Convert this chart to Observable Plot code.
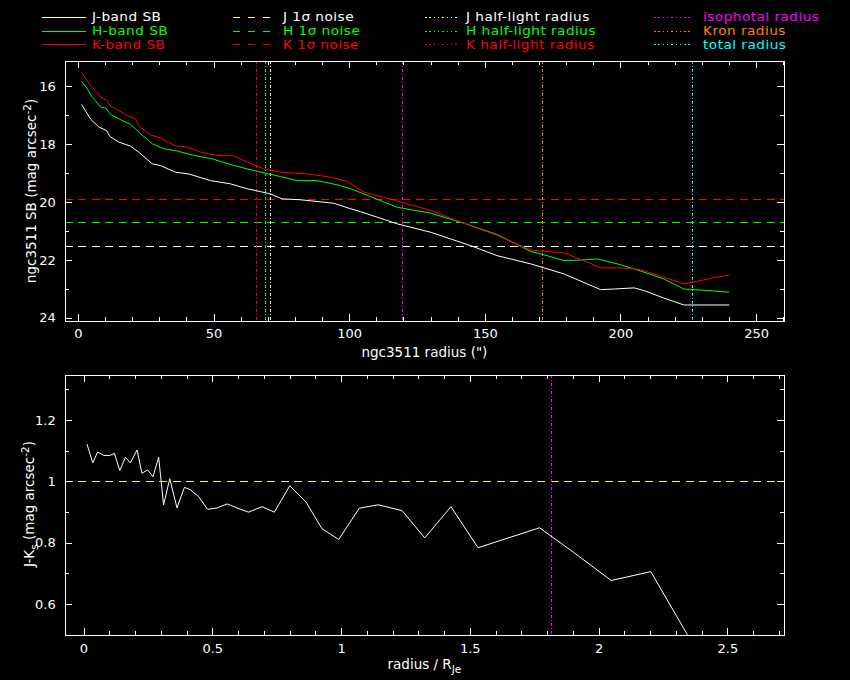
<!DOCTYPE html>
<html><head><meta charset="utf-8">
<script src="https://cdn.jsdelivr.net/npm/d3@7"></script>
<script src="https://cdn.jsdelivr.net/npm/@observablehq/plot@0.6"></script>
<style>
html,body{margin:0;padding:0;background:#000;}
#wrap{position:relative;width:850px;height:680px;background:#000;overflow:hidden;}
#wrap svg{position:absolute;left:0;}
</style></head><body><div id="wrap"></div>
<script>
// ---- data: surface brightness profiles (radius in arcsec, SB in mag/arcsec^2)
const rJ  = [1.2, 4.4, 7.5, 10.3, 11.6, 14.9, 19.2, 22.2, 27.2, 30.2, 35.8, 40.7, 48.7, 56.0, 62.2, 67.1, 70.8, 75.1, 81.9, 94.1, 100.3, 104, 117.5, 129.8, 144.5, 154.4, 166.7, 179, 192.5, 197.4, 204.8, 208.4, 215.8, 223.2, 239.8];
const sbJ = [16.63, 17.12, 17.40, 17.52, 17.73, 17.92, 18.06, 18.27, 18.67, 18.73, 18.96, 19.02, 19.25, 19.36, 19.53, 19.63, 19.71, 19.88, 19.91, 20.03, 20.22, 20.32, 20.74, 21.03, 21.49, 21.84, 22.12, 22.47, 23.01, 22.99, 22.95, 23.04, 23.30, 23.54, 23.54];
const rH  = [1.2, 3.2, 5.1, 8.1, 10, 11.8, 14.9, 19.2, 22.9, 27.2, 31.5, 36.4, 42.5, 49.3, 57.3, 67.1, 74.5, 80.6, 88, 96.6, 100.3, 105.2, 117.5, 129.8, 142.1, 154.4, 166.7, 172.8, 179, 185.1, 191.3, 198.6, 206, 215.8, 223.2, 231.8, 239.8];
const sbH = [15.83, 16.08, 16.37, 16.71, 16.74, 16.97, 17.12, 17.31, 17.63, 17.98, 18.15, 18.23, 18.38, 18.50, 18.73, 18.96, 19.11, 19.25, 19.25, 19.42, 19.53, 19.71, 20.17, 20.37, 20.72, 21.11, 21.69, 21.84, 22.01, 21.99, 21.95, 22.12, 22.33, 22.64, 22.99, 23.04, 23.10];
const rK  = [1.2, 4.4, 8.7, 10.6, 11.8, 14.9, 18, 21, 22.2, 26.5, 30.2, 35.8, 40, 45, 51.1, 56.7, 62.2, 68.3, 74.5, 84.3, 91.7, 99, 105.2, 116, 129.8, 142.1, 154.4, 164.2, 167.9, 179, 186.3, 192.5, 199.9, 207.2, 215.8, 223.2, 228.1, 239.8];
const sbK = [15.53, 15.97, 16.40, 16.48, 16.68, 16.83, 17.00, 17.12, 17.37, 17.67, 17.78, 18.06, 18.08, 18.27, 18.38, 18.38, 18.61, 18.84, 18.96, 19.02, 19.11, 19.27, 19.65, 19.91, 20.28, 20.72, 21.14, 21.55, 21.66, 21.74, 22.01, 22.26, 22.26, 22.32, 22.58, 22.81, 22.72, 22.50];

// 1-sigma noise levels
const noiseJ = 21.53, noiseH = 20.71, noiseK = 19.91;
// radii (arcsec)
const halfJ = 70.9, halfH = 69.1, halfK = 65.8;
const isoR = 119.3, kronR = 171.2, totalR = 226.5;

// ---- data: J-K colour profile vs radius / R_Je
const rNorm = [0.012,0.034,0.053,0.077,0.100,0.118,0.139,0.161,0.180,0.206,0.225,0.247,0.268,0.290,0.309,0.333,0.361,0.390,0.413,0.445,0.480,0.517,0.556,0.594,0.639,0.691,0.739,0.799,0.863,0.924,0.989,1.069,1.142,1.235,1.323,1.425,1.530,1.769,1.901,2.047,2.201,2.345,2.42];
const jk    = [1.122,1.062,1.097,1.086,1.086,1.093,1.037,1.080,1.062,1.104,1.028,1.039,1.017,1.080,0.925,1.010,0.915,0.982,0.974,0.952,0.910,0.915,0.928,0.915,0.901,0.919,0.901,0.987,0.933,0.847,0.812,0.914,0.925,0.906,0.817,0.919,0.785,0.850,0.770,0.678,0.707,0.498,0.39];
const jkRef = 1.0;
const isoNorm = 1.816;

// ---- tick labels
const topXMajor = [0, 50, 100, 150, 200, 250];
const topXMinor = [10,20,30,40,60,70,80,90,110,120,130,140,160,170,180,190,210,220,230,240,260];
const topYMajor = [16, 18, 20, 22, 24];
const topYMinor = [17, 19, 21, 23];
const botXMajor = [0, 0.5, 1, 1.5, 2, 2.5];
const botXMinor = [0.1,0.2,0.3,0.4,0.6,0.7,0.8,0.9,1.1,1.2,1.3,1.4,1.6,1.7,1.8,1.9,2.1,2.2,2.3,2.4,2.6,2.7];
const botYMajor = [0.6, 0.8, 1, 1.2];
const botYMinor = [0.7, 0.9, 1.1, 1.3];

const FONT = "DejaVu Sans";
const W = 850, ML = 64.7, MR = 66;
const FW = W - ML - MR, FH = 260;
const DASH = "8,5.5", DOT = "3,2,1,2";
const CR = "crispEdges";

function boxTicks(vals, len, dim) {
  const o = {stroke: "white", strokeWidth: 1, shapeRendering: CR};
  if (dim === "x") return [
    Plot.tickX(vals, {...o, x: d => d, insetBottom: FH - len}),
    Plot.tickX(vals, {...o, x: d => d, insetTop: FH - len})
  ];
  return [
    Plot.tickY(vals, {...o, y: d => d, insetRight: FW - len}),
    Plot.tickY(vals, {...o, y: d => d, insetLeft: FW - len})
  ];
}
const fmt = d => d3.format("~g")(d);
const styleObj = {background: "black", color: "white", fontFamily: FONT, fontSize: "13px", overflow: "visible"};

const topData = {
  J: rJ.map((r, i) => ({r, sb: sbJ[i]})),
  H: rH.map((r, i) => ({r, sb: sbH[i]})),
  K: rK.map((r, i) => ({r, sb: sbK[i]}))
};

const topPlot = Plot.plot({
  width: W, height: 315, marginLeft: ML, marginRight: MR, marginTop: 6, marginBottom: 49,
  x: {domain: [-4.9, 260.3]},
  y: {domain: [24.11, 15.14]},
  style: styleObj,
  marks: [
    Plot.ruleY([noiseK], {stroke: "#ff0000", strokeDasharray: DASH, shapeRendering: CR}),
    Plot.ruleY([noiseH], {stroke: "#00ff00", strokeDasharray: DASH, shapeRendering: CR}),
    Plot.ruleY([noiseJ], {stroke: "white", strokeDasharray: DASH, shapeRendering: CR}),
    Plot.ruleX([halfK], {stroke: "#ff0000", strokeDasharray: DOT, shapeRendering: CR}),
    Plot.ruleX([halfH], {stroke: "#00ff00", strokeDasharray: DOT, shapeRendering: CR}),
    Plot.ruleX([halfJ], {stroke: "white", strokeDasharray: DOT, shapeRendering: CR}),
    Plot.ruleX([isoR], {stroke: "#ff00ff", strokeDasharray: DOT, shapeRendering: CR}),
    Plot.ruleX([kronR], {stroke: "#ff8000", strokeDasharray: DOT, shapeRendering: CR}),
    Plot.ruleX([totalR], {stroke: "#00ffff", strokeDasharray: DOT, shapeRendering: CR}),
    Plot.line(topData.J, {x: "r", y: "sb", stroke: "white", strokeWidth: 1}),
    Plot.line(topData.H, {x: "r", y: "sb", stroke: "#00ff00", strokeWidth: 1}),
    Plot.line(topData.K, {x: "r", y: "sb", stroke: "#ff0000", strokeWidth: 1}),
    ...boxTicks(topXMajor, 7, "x"),
    ...boxTicks(topXMinor, 4, "x"),
    ...boxTicks(topYMajor, 7, "y"),
    ...boxTicks(topYMinor, 4, "y"),
    Plot.axisX({ticks: topXMajor, tickSize: 0, tickPadding: 7.5, tickFormat: fmt, label: null, fontSize: 13}),
    Plot.axisY({ticks: topYMajor, tickSize: 0, tickPadding: 9.5, tickFormat: fmt, label: null, fontSize: 13}),
    Plot.frame({stroke: "white", shapeRendering: CR})
  ]
});

const botPlot = Plot.plot({
  width: W, height: 310, marginLeft: ML, marginRight: MR, marginTop: 5.3, marginBottom: 44.7,
  x: {domain: [-0.073, 2.72]},
  y: {domain: [0.4976, 1.346]},
  style: styleObj,
  marks: [
    Plot.ruleY([jkRef], {stroke: "#ffff00", strokeDasharray: DASH, shapeRendering: CR}),
    Plot.ruleX([isoNorm], {stroke: "#ff00ff", strokeDasharray: DOT, shapeRendering: CR}),
    Plot.line(rNorm.map((x, i) => ({x, y: jk[i]})), {x: "x", y: "y", stroke: "white", strokeWidth: 1, clip: true}),
    ...boxTicks(botXMajor, 7, "x"),
    ...boxTicks(botXMinor, 4, "x"),
    ...boxTicks(botYMajor, 7, "y"),
    ...boxTicks(botYMinor, 4, "y"),
    Plot.axisX({ticks: botXMajor, tickSize: 0, tickPadding: 7.5, tickFormat: fmt, label: null, fontSize: 13}),
    Plot.axisY({ticks: botYMajor, tickSize: 0, tickPadding: 9.5, tickFormat: fmt, label: null, fontSize: 13}),
    Plot.frame({stroke: "white", shapeRendering: CR})
  ]
});

const wrap = document.getElementById("wrap");
topPlot.style.top = "55px";
botPlot.style.top = "370px";
wrap.appendChild(topPlot);
wrap.appendChild(botPlot);

// ---- overlay: legend and axis titles
const ov = d3.select(wrap).append("svg")
  .attr("width", W).attr("height", 680)
  .style("top", "0px").style("pointer-events", "none")
  .attr("font-family", FONT).attr("font-size", 13.5);

const legendCols = [
  {x1: 42, x2: 86, tx: 92, dash: null, items: [["J-band SB", "white"], ["H-band SB", "#00ff00"], ["K-band SB", "#ff0000"]]},
  {x1: 233, x2: 277, tx: 283, dash: "7.3,7.5", items: [["J 1σ noise", "white"], ["H 1σ noise", "#00ff00"], ["K 1σ noise", "#ff0000"]]},
  {x1: 425, x2: 457, tx: 466, dash: "1.5,2.8", items: [["J half-light radius", "white"], ["H half-light radius", "#00ff00"], ["K half-light radius", "#ff0000"]]},
  {x1: 654, x2: 693, tx: 703, dash: "1.5,2.8", items: [["isophotal radius", "#ff00ff"], ["Kron radius", "#ff8000"], ["total radius", "#00ffff"]]}
];
const rowY = [17, 30.7, 44.3];
legendCols.forEach(c => {
  c.items.forEach(([label, col], i) => {
    const y = rowY[i];
    ov.append("line").attr("x1", c.x1).attr("x2", c.x2).attr("y1", y + 0.5).attr("y2", y + 0.5)
      .attr("stroke", col).attr("stroke-width", 1).attr("stroke-dasharray", c.dash)
      .attr("shape-rendering", CR);
    ov.append("text").attr("transform", `translate(${c.tx},${y}) scale(1.14,1)`)
      .attr("dy", "0.36em").attr("font-size", 12)
      .attr("fill", col).attr("letter-spacing", 0.4).text(label);
  });
});

// top x title
ov.append("text").attr("x", 424.4).attr("y", 352).attr("dy", "0.36em")
  .attr("text-anchor", "middle").attr("fill", "white").text("ngc3511 radius (\")");
// top y title
{
  const t = ov.append("text").attr("transform", "translate(31,191) rotate(-90)")
    .attr("text-anchor", "middle").attr("dy", "0.36em").attr("fill", "white");
  t.append("tspan").text("ngc3511 SB (mag arcsec");
  t.append("tspan").attr("dy", -5).attr("font-size", 10.5).text("-2");
  t.append("tspan").attr("dy", 5).text(")");
}
// bottom x title
{
  const t = ov.append("text").attr("x", 424.4).attr("y", 664).attr("dy", "0.36em")
    .attr("text-anchor", "middle").attr("fill", "white");
  t.append("tspan").text("radius / R");
  t.append("tspan").attr("dy", 4).attr("font-size", 10.5).text("Je");
}
// bottom y title
{
  const t = ov.append("text").attr("transform", "translate(29,504) rotate(-90)")
    .attr("text-anchor", "middle").attr("dy", "0.36em").attr("fill", "white");
  t.append("tspan").text("J-K");
  t.append("tspan").attr("dy", 4).attr("font-size", 10.5).text("s");
  t.append("tspan").attr("dy", -4).text(" (mag arcsec");
  t.append("tspan").attr("dy", -5).attr("font-size", 10.5).text("-2");
  t.append("tspan").attr("dy", 5).text(")");
}
</script></body></html>
